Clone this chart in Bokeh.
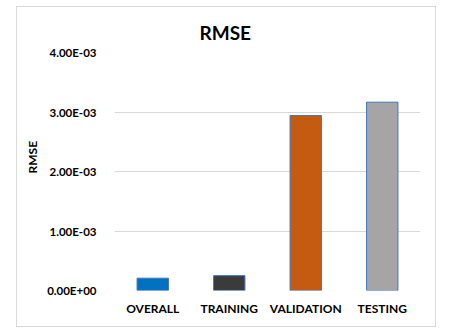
from bokeh.plotting import figure
from bokeh.models import CustomJSTickFormatter, FixedTicker, Title
from bokeh.embed import file_html
from bokeh.resources import INLINE

categories = ["OVERALL", "TRAINING", "VALIDATION", "TESTING"]
rmse = [2.07e-4, 2.5e-4, 2.94e-3, 3.165e-3]
bar_colors = ["#0070C0", "#3B3B3B", "#C55A11", "#A5A5A5"]
y_ticks = [0.0, 1e-3, 2e-3, 3e-3, 4e-3]

FONT = "Lato"

p = figure(width=420, height=321, x_range=categories, y_range=(0, 4e-3),
           output_backend="svg", toolbar_location=None,
           min_border_left=95, min_border_right=17, min_border_top=45, min_border_bottom=38,
           styles={"border": "1px solid #d9d9d9", "transform": "translate(16px, 6px)"})

p.vbar(x=categories, top=rmse, width=0.41, fill_color=bar_colors,
       line_color="#4472C4", line_width=1)

p.title.text = "RMSE"
p.title.align = "left"
p.title.offset = 85
p.title.text_font = FONT
p.title.text_font_size = "19px"
p.title.text_font_style = "bold"
p.title.text_color = "#000000"
p.title.standoff = 18

p.outline_line_color = None
p.xgrid.grid_line_color = None
p.ygrid.grid_line_color = "#d9d9d9"
p.ygrid.grid_line_width = 1

p.yaxis.ticker = FixedTicker(ticks=y_ticks)
p.yaxis.formatter = CustomJSTickFormatter(code="""
const s = tick.toExponential(2).toUpperCase();
const parts = s.split('E');
let e = parseInt(parts[1]);
const sign = e < 0 ? '-' : '+';
e = Math.abs(e);
return parts[0] + 'E' + sign + (e < 10 ? '0' + e : '' + e);
""")
for ax in (p.xaxis, p.yaxis):
    ax.axis_line_color = None
    ax.major_tick_line_color = None
    ax.minor_tick_line_color = None
    ax.major_label_text_font = FONT
    ax.major_label_text_font_style = "bold"
    ax.major_label_text_color = "#000000"

p.yaxis.major_label_text_font_size = "11.5px"
p.yaxis.major_label_standoff = 12
p.xaxis.major_label_text_font_size = "12px"
p.xaxis.major_label_standoff = 4

ytitle = Title(text="RMSE", align="left", offset=117, standoff=10,
               text_font=FONT, text_font_style="bold", text_font_size="12px",
               text_color="#000000")
p.add_layout(ytitle, "left")

open("out.html", "w").write(file_html(p, INLINE))
